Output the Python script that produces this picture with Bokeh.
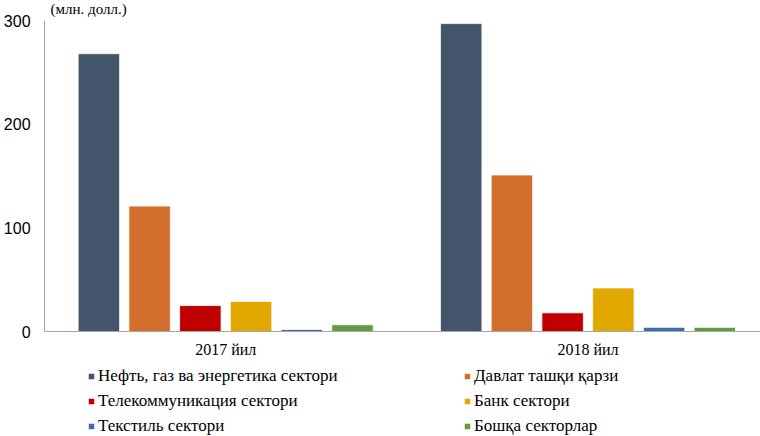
from bokeh.plotting import figure
from bokeh.models import (ColumnDataSource, FixedTicker, Legend, LegendItem, Label, Range1d,
                          LinearAxis)
from bokeh.transform import dodge
from bokeh.embed import file_html
from bokeh.resources import INLINE

# ---- data ----
years = ["2017 йил", "2018 йил"]
sectors = [
    "Нефть, газ ва энергетика сектори",
    "Давлат ташқи қарзи",
    "Телекоммуникация сектори",
    "Банк сектори",
    "Текстиль сектори",
    "Бошқа секторлар",
]
neft = [268, 297]
davlat = [121, 151]
telekom = [25, 18]
bank = [29, 42]
tekstil = [2, 4]
boshqa = [6.5, 4]
y_ticks = [0, 100, 200, 300]
unit_label = "(млн. долл.)"

colors = ["#44546A", "#D26F2C", "#C00000", "#E1A800", "#4169B4", "#629B43"]
keys = ["neft", "davlat", "telekom", "bank", "tekstil", "boshqa"]

x_pos = [i + 0.5 for i in range(len(years))]
src = ColumnDataSource(dict(x=x_pos, neft=neft, davlat=davlat, telekom=telekom,
                            bank=bank, tekstil=tekstil, boshqa=boshqa))

W, H = 760, 436
px_x = 362.3            # pixels per group
px_y = 311.0 / 300.0    # pixels per value unit
x0 = 0.5 - 225.2 / px_x
x1 = x0 + W / px_x
y0 = -(H - 331) / px_y
y1 = 300 + 20 / px_y

p = figure(width=W, height=H, output_backend="svg", toolbar_location=None,
           x_range=Range1d(x0, x1), y_range=Range1d(y0, y1),
           min_border_left=0, min_border_right=0, min_border_top=0,
           min_border_bottom=0, x_axis_location=None, y_axis_location=None)
p.outline_line_color = None
p.xgrid.visible = False
p.ygrid.visible = False

step = 0.14
bar_w = 0.1145
renderers = []
for k, (key, col) in enumerate(zip(keys, colors)):
    off = (k - 2.5) * step
    r = p.vbar(x=dodge("x", off, range=p.x_range), top=key, width=bar_w, source=src,
               fill_color=col, line_color="white", line_width=0.8)
    renderers.append(r)

yax = LinearAxis(fixed_location=0, bounds=(0, 300), ticker=FixedTicker(ticks=y_ticks))
yax.axis_line_color = "#a6a6a6"
yax.major_tick_out = 0
yax.major_tick_in = 0
yax.major_tick_line_color = None
yax.minor_tick_line_color = None
yax.major_label_text_font = "Liberation Sans"
yax.major_label_text_font_size = "16px"
yax.major_label_text_color = "#000000"
yax.major_label_standoff = 14
p.add_layout(yax, "left")

xax = LinearAxis(fixed_location=0, bounds=(0, x1), ticker=FixedTicker(ticks=x_pos))
xax.major_label_overrides = {x: y for x, y in zip(x_pos, years)}
xax.axis_line_color = "#a6a6a6"
xax.major_tick_out = 0
xax.major_tick_in = 0
xax.major_tick_line_color = None
xax.minor_tick_line_color = None
xax.major_label_text_font = "Liberation Serif"
xax.major_label_text_font_size = "16px"
xax.major_label_text_color = "#000000"
xax.major_label_standoff = 9
p.add_layout(xax, "below")

# legends (two columns)
def make_legend(idx, loc):
    return Legend(items=[LegendItem(label=sectors[k], renderers=[renderers[k]]) for k in idx],
                  location=loc, orientation="vertical",
                  glyph_width=8, glyph_height=8, label_standoff=3,
                  label_height=18, spacing=5, padding=0, margin=0,
                  border_line_alpha=0, background_fill_alpha=0,
                  label_text_font="Liberation Serif", label_text_font_size="17px",
                  label_text_color="#000000")

p.add_layout(make_legend([0, 2, 4], (87, 0)))
p.add_layout(make_legend([1, 3, 5], (463, 0)))

p.add_layout(Label(x=50, y=H, x_units="screen", y_units="screen", text=unit_label,
                   text_font="Liberation Serif", text_font_size="15px",
                   text_baseline="top", text_color="#000000"))

open("out.html", "w").write(file_html(p, INLINE))
